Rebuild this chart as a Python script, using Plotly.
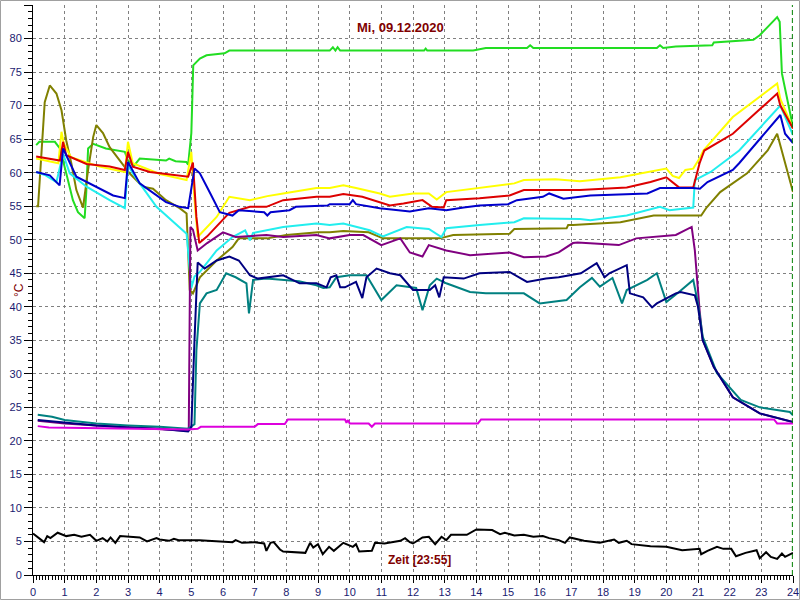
import plotly.graph_objects as go

# ---------------- data (hours, °C) ----------------
x_green = [0.1, 0.2, 0.69, 0.85, 1.05, 1.26, 1.42, 1.63, 1.68, 1.74, 1.9, 2.3, 2.9, 3.0, 3.2, 3.37, 4.2, 4.3, 4.5, 4.84, 4.9, 5.0, 5.03, 5.06, 5.27, 5.48, 6.05, 6.2, 9.37, 9.47, 9.55, 9.62, 9.7, 12.35, 12.4, 12.45, 13.9, 14.3, 15.6, 15.7, 15.8, 19.7, 19.8, 19.9, 20.3, 21.45, 21.5, 22.75, 22.95, 23.5, 23.58, 23.65, 24.0]
y_green = [64.1, 64.6, 64.6, 63.6, 59.9, 55.9, 54.1, 53.2, 56.9, 63.6, 64.3, 63.6, 63.1, 61.8, 61.1, 62.1, 61.8, 62.1, 61.7, 61.6, 61.2, 65.9, 70.8, 76.0, 77.0, 77.5, 77.8, 78.2, 78.2, 78.7, 78.2, 78.7, 78.2, 78.2, 78.5, 78.2, 78.2, 78.6, 78.6, 79.0, 78.6, 78.6, 79.0, 78.6, 78.8, 79.0, 79.4, 79.8, 80.5, 83.2, 82.5, 74.8, 66.8]

x_olive = [0.1, 0.16, 0.37, 0.53, 0.74, 0.9, 1.05, 1.21, 1.37, 1.58, 1.74, 1.9, 2.0, 2.21, 2.42, 2.74, 3.05, 3.47, 3.79, 4.2, 4.63, 4.85, 4.95, 5.05, 5.27, 5.8, 6.3, 6.5, 7.4, 8.0, 9.0, 9.37, 9.8, 10.6, 11.05, 12.85, 13.27, 15.05, 15.2, 16.85, 16.9, 17.05, 18.55, 19.6, 21.1, 21.27, 21.7, 22.55, 23.2, 23.5, 24.0]
y_olive = [55.0, 55.0, 70.5, 73.0, 71.8, 69.3, 64.8, 61.4, 57.4, 54.8, 60.4, 65.3, 67.1, 65.9, 63.8, 61.8, 59.9, 57.9, 57.6, 55.9, 54.7, 53.9, 42.5, 42.0, 44.4, 46.9, 48.9, 50.2, 50.2, 50.7, 51.1, 51.1, 51.3, 51.1, 50.2, 50.2, 50.7, 50.9, 51.6, 51.7, 52.2, 52.2, 52.6, 53.6, 53.6, 54.8, 57.1, 59.9, 63.3, 65.8, 57.1]

x_yellow = [0.1, 0.8, 0.9, 0.97, 1.2, 2.1, 2.9, 3.0, 3.15, 4.0, 4.85, 5.0, 5.1, 5.2, 5.8, 6.2, 6.85, 7.4, 7.9, 8.95, 9.37, 9.8, 10.2, 10.95, 11.27, 12.0, 12.5, 12.75, 13.05, 14.1, 15.2, 15.5, 16.5, 17.27, 18.55, 20.0, 20.2, 20.4, 20.6, 20.85, 21.07, 21.17, 22.1, 23.5, 23.6, 24.0]
y_yellow = [62.1, 61.4, 66.1, 64.4, 62.3, 60.9, 60.1, 64.6, 61.4, 59.8, 58.9, 63.1, 56.0, 50.4, 53.4, 56.4, 55.9, 56.5, 56.9, 57.7, 57.7, 58.1, 57.7, 56.9, 56.4, 56.9, 56.9, 56.0, 57.1, 57.7, 58.4, 58.9, 59.0, 58.7, 59.3, 60.6, 59.5, 59.2, 60.4, 60.6, 62.3, 63.3, 68.3, 73.3, 71.0, 66.6]

x_cyan = [0.1, 0.4, 0.74, 0.95, 1.16, 1.69, 2.42, 2.9, 3.0, 3.15, 3.37, 3.9, 4.85, 4.9, 4.95, 5.0, 5.1, 5.27, 5.8, 6.3, 6.7, 6.85, 6.95, 7.9, 8.95, 9.37, 9.8, 10.63, 11.05, 11.8, 12.5, 12.9, 13.05, 14.1, 15.2, 15.5, 17.27, 17.6, 18.75, 19.8, 20.1, 20.85, 20.9, 21.4, 22.3, 23.6, 24.0]
y_cyan = [60.1, 59.6, 58.6, 62.8, 59.9, 57.9, 55.9, 54.7, 61.1, 59.9, 58.4, 54.9, 50.9, 48.0, 45.0, 42.8, 44.5, 45.2, 48.4, 50.4, 51.4, 49.9, 51.0, 51.9, 52.4, 52.2, 52.4, 51.4, 50.5, 51.9, 51.6, 50.4, 51.7, 52.2, 52.6, 53.2, 53.1, 52.9, 53.6, 54.9, 54.4, 54.8, 58.9, 60.1, 63.3, 70.0, 65.6]

x_red = [0.1, 0.85, 0.95, 1.05, 1.69, 2.42, 2.9, 3.0, 3.15, 3.69, 4.9, 5.05, 5.16, 5.25, 5.5, 6.2, 6.85, 7.37, 7.9, 8.95, 9.37, 9.8, 10.4, 11.27, 11.7, 12.3, 12.6, 12.97, 13.05, 14.1, 15.05, 15.5, 17.27, 18.75, 19.5, 20.0, 20.4, 20.85, 21.05, 21.2, 22.1, 23.5, 23.6, 24.0]
y_red = [62.4, 61.8, 64.6, 62.6, 61.3, 60.9, 60.4, 63.1, 60.9, 60.1, 59.4, 61.5, 53.4, 49.5, 50.5, 54.0, 54.9, 54.9, 55.9, 56.4, 56.4, 56.8, 56.4, 55.1, 55.4, 55.9, 54.9, 54.8, 55.9, 56.2, 56.6, 57.4, 57.4, 57.8, 58.6, 59.3, 57.8, 57.8, 61.4, 63.3, 65.8, 71.8, 70.0, 66.6]

x_blue = [0.1, 0.53, 0.84, 0.95, 1.37, 1.9, 2.53, 2.9, 3.0, 3.37, 4.2, 4.63, 4.9, 5.1, 5.27, 5.6, 5.9, 6.3, 6.5, 7.3, 7.4, 7.5, 8.1, 8.3, 9.3, 9.37, 10.0, 10.1, 10.2, 10.95, 11.6, 11.9, 12.5, 13.05, 13.6, 14.1, 15.0, 15.28, 16.1, 16.3, 16.75, 17.27, 17.6, 19.4, 19.8, 20.85, 21.06, 21.3, 22.1, 22.3, 23.6, 23.75, 24.0]
y_blue = [60.1, 59.6, 58.1, 63.6, 59.4, 58.1, 56.6, 56.2, 61.6, 58.4, 55.6, 54.9, 54.7, 60.6, 59.9, 56.9, 54.1, 53.6, 54.4, 54.1, 53.6, 54.1, 54.4, 54.9, 55.1, 55.3, 55.3, 55.9, 55.3, 54.7, 54.4, 54.2, 54.7, 54.4, 54.8, 55.1, 55.3, 55.9, 56.4, 56.9, 56.1, 56.4, 56.6, 56.9, 57.7, 57.7, 57.6, 58.6, 60.4, 61.4, 68.6, 65.8, 64.4]

x_purple = [0.15, 1.0, 2.0, 3.0, 4.0, 4.85, 4.92, 4.97, 5.05, 5.2, 5.5, 6.0, 6.4, 7.37, 7.9, 8.95, 9.37, 10.0, 10.43, 11.0, 11.6, 11.9, 12.3, 12.5, 13.05, 13.8, 15.05, 15.5, 16.2, 16.6, 17.05, 17.2, 18.5, 19.05, 20.3, 20.8, 20.9, 20.97, 21.05, 21.15, 21.5, 22.1, 22.95, 24.0]
y_purple = [23.0, 22.6, 22.3, 22.0, 21.8, 21.5, 22.0, 51.9, 51.5, 48.4, 49.5, 51.1, 50.4, 50.7, 50.4, 50.7, 50.2, 50.7, 50.7, 49.2, 50.2, 48.1, 47.5, 49.2, 48.4, 47.7, 48.1, 47.4, 47.5, 48.1, 49.5, 49.6, 49.2, 50.2, 50.7, 51.9, 48.4, 43.5, 39.5, 35.0, 31.0, 26.5, 24.1, 22.8]

x_teal = [0.15, 0.6, 1.0, 2.0, 3.0, 4.0, 4.9, 5.1, 5.16, 5.27, 5.48, 5.8, 6.1, 6.4, 6.74, 6.82, 6.95, 7.37, 8.4, 8.95, 9.17, 9.37, 9.58, 10.0, 10.53, 11.0, 11.48, 12.1, 12.3, 12.53, 12.75, 13.05, 13.8, 14.3, 15.5, 16.0, 16.85, 17.27, 17.65, 17.9, 18.3, 18.6, 18.75, 19.4, 19.7, 20.0, 20.4, 20.85, 21.0, 21.15, 21.6, 22.35, 22.95, 23.9, 24.0]
y_teal = [23.9, 23.6, 23.1, 22.6, 22.3, 22.1, 21.8, 22.5, 33.5, 40.5, 42.0, 42.5, 45.0, 44.4, 43.5, 39.0, 44.0, 44.2, 43.8, 43.2, 42.8, 42.9, 44.4, 44.7, 44.7, 41.0, 43.2, 42.8, 39.5, 43.2, 44.2, 43.5, 42.2, 42.0, 42.0, 40.5, 41.0, 42.9, 44.3, 43.0, 44.3, 40.5, 42.5, 44.0, 45.0, 40.7, 42.2, 44.0, 40.5, 35.5, 30.1, 26.1, 25.0, 24.3, 23.8]

x_navy = [0.15, 1.0, 2.0, 3.0, 4.0, 4.9, 5.0, 5.1, 5.2, 5.42, 5.8, 6.2, 6.5, 6.85, 7.1, 7.9, 8.42, 8.95, 9.27, 9.4, 9.58, 9.7, 9.85, 10.2, 10.4, 10.53, 10.85, 11.27, 11.6, 12.0, 12.53, 12.7, 12.83, 12.97, 13.6, 14.1, 15.05, 15.6, 16.2, 16.6, 17.3, 17.8, 18.05, 18.2, 18.75, 18.85, 19.27, 19.55, 19.7, 20.3, 20.45, 20.9, 21.0, 21.15, 21.5, 22.1, 22.95, 24.0]
y_navy = [23.1, 22.7, 22.3, 22.0, 21.8, 21.4, 22.0, 35.0, 46.6, 45.7, 46.9, 47.5, 46.9, 44.7, 44.2, 44.7, 43.5, 43.5, 42.9, 44.4, 44.7, 42.9, 42.9, 43.7, 41.3, 44.4, 45.7, 45.0, 44.7, 42.5, 42.5, 43.2, 41.4, 44.4, 44.2, 45.0, 45.2, 43.7, 44.2, 44.4, 45.0, 46.5, 44.4, 45.0, 46.2, 42.0, 41.4, 39.9, 40.5, 42.0, 42.2, 41.7, 40.0, 35.0, 31.0, 26.5, 24.1, 22.8]

x_magenta = [0.15, 0.5, 4.9, 5.2, 5.3, 7.0, 7.1, 7.95, 8.05, 9.85, 9.9, 9.95, 10.0, 10.6, 10.7, 10.8, 14.05, 14.15, 23.4, 23.5, 24.0]
y_magenta = [22.2, 22.0, 21.7, 21.8, 22.1, 22.1, 22.5, 22.5, 23.2, 23.2, 22.7, 23.1, 22.6, 22.6, 22.1, 22.6, 22.6, 23.2, 23.2, 22.6, 22.6]

x_black = [0.0, 0.35, 0.45, 0.55, 0.78, 1.05, 1.3, 1.53, 1.8, 2.0, 2.2, 2.35, 2.45, 2.6, 2.75, 3.37, 3.6, 3.9, 4.0, 4.3, 4.45, 4.6, 5.26, 6.0, 6.3, 6.4, 6.6, 7.0, 7.3, 7.37, 7.5, 7.6, 7.8, 7.9, 8.5, 8.6, 8.75, 8.85, 9.0, 9.15, 9.35, 9.5, 9.8, 10.1, 10.2, 10.3, 10.7, 10.8, 11.1, 11.6, 11.75, 11.9, 12.0, 12.3, 12.5, 12.7, 12.9, 13.05, 13.2, 13.7, 14.0, 14.5, 14.75, 14.9, 15.2, 15.5, 15.8, 16.1, 16.3, 16.6, 16.8, 16.95, 17.4, 17.9, 18.35, 18.5, 18.75, 18.9, 19.5, 20.0, 20.5, 21.05, 21.1, 21.3, 21.6, 21.8, 22.05, 22.2, 22.5, 22.85, 22.95, 23.15, 23.3, 23.5, 23.65, 23.75, 24.0]
y_black = [6.2, 4.9, 5.8, 5.5, 6.3, 5.8, 6.0, 5.7, 6.0, 5.1, 5.5, 5.0, 5.6, 4.8, 5.8, 5.6, 5.0, 5.5, 5.3, 5.1, 5.4, 5.2, 5.2, 5.0, 4.9, 5.2, 4.8, 4.9, 4.7, 3.6, 4.8, 4.9, 3.8, 3.5, 3.3, 3.3, 4.8, 4.1, 4.6, 3.1, 4.2, 3.6, 4.8, 4.2, 4.6, 3.5, 3.6, 4.8, 4.7, 5.1, 5.5, 4.9, 4.7, 5.6, 5.7, 4.6, 5.7, 5.2, 6.0, 6.0, 6.8, 6.7, 6.1, 6.3, 5.9, 6.0, 5.7, 5.8, 5.5, 5.2, 4.8, 5.6, 5.1, 4.8, 5.3, 4.8, 5.1, 4.6, 4.3, 4.2, 3.7, 3.9, 3.1, 3.6, 4.2, 3.9, 3.9, 2.8, 3.3, 3.7, 2.5, 3.4, 2.7, 2.4, 3.2, 2.7, 3.3]

x_ticks = list(range(0, 25))
y_ticks = list(range(0, 90, 5))
title_text = "Mi, 09.12.2020"
x_title = "Zeit [23:55]"
y_title = "°C"
now_hour = 23.98

series = [
    (x_green, y_green, "#22dd22"),
    (x_olive, y_olive, "#808000"),
    (x_yellow, y_yellow, "#ffff00"),
    (x_cyan, y_cyan, "#22eeee"),
    (x_red, y_red, "#dd0000"),
    (x_blue, y_blue, "#0000cc"),
    (x_purple, y_purple, "#800080"),
    (x_teal, y_teal, "#008080"),
    (x_navy, y_navy, "#000080"),
    (x_magenta, y_magenta, "#dd00dd"),
    (x_black, y_black, "#000000"),
]

fig = go.Figure()
for xs, ys, col in series:
    fig.add_trace(go.Scatter(x=xs, y=ys, mode="lines",
                             line=dict(color=col, width=2), hoverinfo="skip"))

L, R, T, B = 33, 7, 5, 25
W, H = 800, 600
pw, ph = W - L - R, H - T - B

tickfont = dict(family="Liberation Sans, Arial, sans-serif", size=11, color="#1a1a70")
fig.update_layout(
    width=W, height=H,
    margin=dict(l=L, r=R, t=T, b=B, pad=0, autoexpand=False),
    paper_bgcolor="white", plot_bgcolor="white",
    showlegend=False,
    hovermode=False,
    xaxis=dict(range=[0, 24], tickvals=x_ticks, ticks="outside", ticklen=7,
               tickcolor="black", showline=True, linecolor="black", linewidth=1,
               showgrid=True, gridcolor="#808080", griddash="3px,3px", gridwidth=1,
               zeroline=False, tickfont=tickfont, automargin=False,
               minor=dict(dtick=0.1, ticks="outside", ticklen=4, tickcolor="black", showgrid=False)),
    yaxis=dict(range=[0, 85], tickvals=y_ticks, ticks="outside", ticklen=8,
               tickcolor="black", showline=True, linecolor="black", linewidth=1,
               showgrid=True, gridcolor="#808080", griddash="3px,3px", gridwidth=1,
               zeroline=False, tickfont=tickfont, automargin=False,
               minor=dict(dtick=1, ticks="outside", ticklen=4, tickcolor="black", showgrid=False)),
)

fig.add_shape(type="line", xref="x", yref="paper", x0=now_hour, x1=now_hour, y0=0, y1=1,
              line=dict(color="#008000", width=1, dash="5px,3px"))

# outer border of the image
fig.add_shape(type="rect", xref="paper", yref="paper",
              x0=(-L + 0.5) / pw, x1=(pw + R - 0.5) / pw,
              y0=(-B + 0.5) / ph, y1=(ph + T - 0.5) / ph,
              line=dict(color="#a0a0a0", width=1), layer="above")

fig.add_annotation(text="<b>" + title_text + "</b>", xref="paper", yref="paper",
                   x=(400 - L) / pw, y=(H - B - 18) / ph, showarrow=False,
                   font=dict(family="Liberation Sans, Arial, sans-serif", size=13, color="#800000"))
fig.add_annotation(text="<b>" + x_title + "</b>", xref="paper", yref="paper",
                   x=(419 - L) / pw, y=(H - B - 569) / ph, showarrow=False,
                   font=dict(family="Liberation Sans, Arial, sans-serif", size=12, color="#800000"))
fig.add_annotation(text=y_title, xref="paper", yref="paper",
                   x=(10 - L) / pw, y=(H - B - 290) / ph, showarrow=False, textangle=-90,
                   font=dict(family="Liberation Sans, Arial, sans-serif", size=12, color="#800000"))

fig.write_html("out.html", config={"displayModeBar": False},
               post_script="document.body.style.margin='0px';document.body.style.overflow='hidden';")
